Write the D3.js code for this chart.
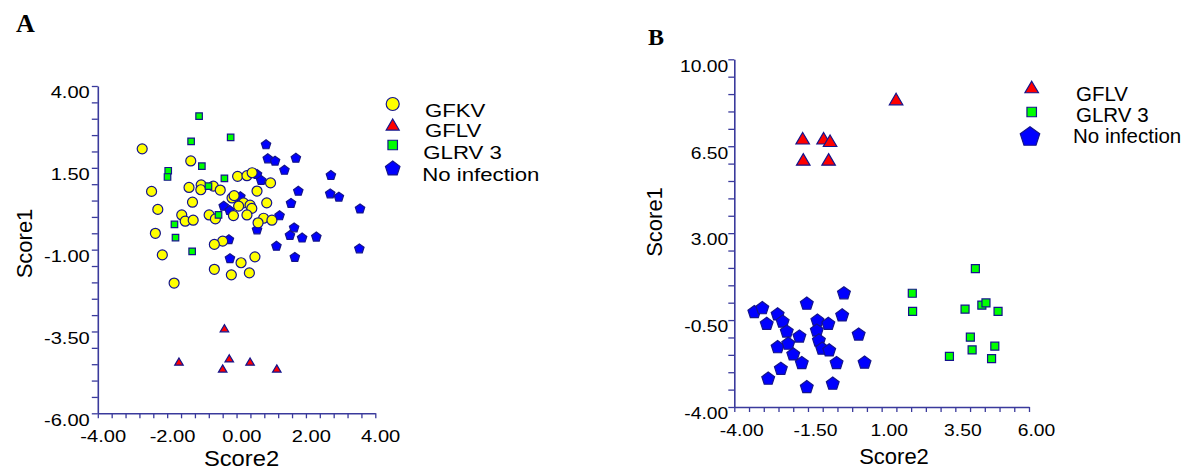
<!DOCTYPE html>
<html>
<head>
<meta charset="utf-8">
<script src="https://cdn.jsdelivr.net/npm/d3@7"></script>
<style>
  body { margin: 0; background: #fff; }
  svg { display: block; font-family: "Liberation Sans", Arial, sans-serif; }
</style>
</head>
<body>
<svg id="chart" width="1184" height="470"></svg>
<script>
// Panel A points, [Score2, Score1]
const gfkvA = [
  [-2.72, 2.08], [-1.32, 1.71], [-2.45, 0.78], [-2.27, 0.23], [-2.34, -0.50], [-2.14, -1.16],
  [-1.80, -2.02], [-1.37, 0.90], [-1.02, 0.98], [-1.03, 0.83], [-0.67, 0.94], [-0.47, 0.82],
  [-1.27, 0.45], [-1.58, 0.06], [-1.48, -0.13], [-1.25, -0.10], [-0.79, 0.06], [-0.61, -0.06],
  [-0.13, 0.58], [-0.07, 0.65], [0.20, 0.43], [0.06, 0.33], [0.39, 0.36], [0.44, 0.26],
  [0.87, 0.43], [-0.09, 0.04], [0.30, 0.06], [0.78, -0.04], [0.62, -0.18], [1.02, -0.10],
  [-0.40, -0.74], [-0.64, -0.84], [0.53, -1.22], [0.13, -1.40], [0.37, -1.71], [-0.15, -1.77],
  [-0.64, -1.60], [0.03, 1.24], [0.30, 1.26], [0.45, 1.35], [0.98, 1.04], [0.59, 0.79]
];
const gflvA = [[-0.35, -3.40], [-1.66, -4.42], [-0.21, -4.32], [-0.40, -4.63], [0.39, -4.42], [1.16, -4.63]];
const glrvA = [
  [-1.08, 3.08], [-0.17, 2.43], [-1.31, 2.31], [-1.00, 1.55], [-1.97, 1.41], [-1.99, 1.22],
  [-0.35, 1.18], [-0.81, 0.94], [-0.52, 0.06], [-1.79, -0.23], [-1.76, -0.63], [-1.28, -1.05]
];
const noneA = [
  [0.85, 2.22], [0.90, 1.79], [1.11, 1.72], [1.71, 1.81], [1.38, 1.44], [2.72, 1.28],
  [0.59, 1.31], [0.71, 1.13], [1.78, 0.80], [2.70, 0.72], [2.95, 0.62], [3.56, 0.26],
  [1.57, 0.43], [0.11, 0.63], [-0.37, 0.34], [-0.20, 0.21], [1.24, 0.05], [0.59, -0.38],
  [1.66, -0.32], [1.54, -0.55], [1.89, -0.63], [2.30, -0.60], [-0.22, -0.68], [1.15, -0.88],
  [3.54, -0.96], [-0.19, -1.26], [1.68, -1.22]
];

// Panel B points
const gflvB = [[-1.68, 6.82], [-0.97, 6.82], [-0.75, 6.72], [-1.66, 5.97], [-0.80, 5.97], [1.49, 8.40]];
const glrvB = [
  [4.18, 1.57], [2.04, 0.58], [2.05, -0.15], [3.83, -0.06], [4.40, 0.10], [4.54, 0.19],
  [4.95, -0.15], [4.01, -1.19], [4.07, -1.70], [4.84, -1.55], [3.30, -1.96], [4.73, -2.05]
];
const noneB = [
  [-3.32, -0.16], [-3.05, 0.00], [-2.90, -0.63], [-2.53, -0.25], [-2.36, -0.54], [-2.22, -0.94],
  [-2.53, -1.57], [-2.17, -1.43], [-2.00, -1.86], [-1.79, -1.14], [-1.71, -2.21], [-2.85, -2.84],
  [-2.42, -2.44], [-1.54, 0.18], [-1.18, -0.50], [-1.20, -0.90], [-1.13, -1.30], [-1.02, -1.63],
  [-0.78, -1.70], [-0.81, -0.63], [-1.54, -3.18], [-0.66, -3.04], [-0.53, -2.21], [-0.34, -0.29],
  [-0.28, 0.60], [0.22, -1.06], [0.42, -2.19]
];

// labelled ticks
const ticksAx = [-4, -2, 0, 2, 4];
const ticksAy = [-6, -3.5, -1, 1.5, 4];
const ticksBx = [-4, -1.5, 1, 3.5, 6];
const ticksBy = [-4, -0.5, 3, 6.5, 10];

const legendA = ["GFKV", "GFLV", "GLRV 3", "No infection"];
const legendB = ["GFLV", "GLRV 3", "No infection"];

const axisColor = "#3a3a9c";
const edge = "#14148c";

// symbol types, size = width in px
const circle = { draw(ctx, w) { ctx.moveTo(w / 2, 0); ctx.arc(0, 0, w / 2, 0, 2 * Math.PI); } };
const square = { draw(ctx, w) { ctx.rect(-w / 2, -w / 2, w, w); } };
const triangle = {
  draw(ctx, w) {
    const h = w * 0.85;
    ctx.moveTo(0, -h / 2); ctx.lineTo(w / 2, h / 2); ctx.lineTo(-w / 2, h / 2); ctx.closePath();
  }
};
const pentagon = {
  draw(ctx, w) {
    const r = w / 1.902, dy = 0.095 * r;
    for (let i = 0; i < 5; i++) {
      const a = -Math.PI / 2 + i * 2 * Math.PI / 5;
      const px = r * Math.cos(a), py = r * Math.sin(a) + dy;
      if (i) ctx.lineTo(px, py); else ctx.moveTo(px, py);
    }
    ctx.closePath();
  }
};

const styles = {
  "GFKV": { type: circle, fill: "#ffff00" },
  "GFLV": { type: triangle, fill: "#ff0000" },
  "GLRV 3": { type: square, fill: "#00ff00" },
  "No infection": { type: pentagon, fill: "#0000ff" }
};

const svg = d3.select("#chart");

function withMinor(majors) {
  const out = [];
  for (let i = 0; i < majors.length - 1; i++) {
    const step = (majors[i + 1] - majors[i]) / 5;
    for (let k = 0; k < 5; k++) out.push(majors[i] + k * step);
  }
  out.push(majors[majors.length - 1]);
  return out;
}

function labelFor(majors) {
  return d => {
    const m = majors.find(t => Math.abs(t - d) < 1e-9);
    return m === undefined ? "" : m.toFixed(2);
  };
}

function drawMarks(g, data, name, w, x, y) {
  const st = styles[name];
  g.append("g").selectAll("path")
    .data(data)
    .join("path")
    .attr("transform", d => `translate(${x(d[0])},${y(d[1])})`)
    .attr("d", d3.symbol().type(st.type).size(w))
    .attr("fill", st.fill)
    .attr("stroke", edge)
    .attr("stroke-width", 1.2);
}

function drawPanel(p) {
  const g = svg.append("g");
  const x = d3.scaleLinear().domain([p.xt[0], p.xt[p.xt.length - 1]]).range(p.xr);
  const y = d3.scaleLinear().domain([p.yt[0], p.yt[p.yt.length - 1]]).range(p.yr);

  // x axis
  const gx = g.append("g")
    .attr("transform", `translate(0,${p.yr[0]})`)
    .call(d3.axisBottom(x).tickValues(withMinor(p.xt)).tickFormat(labelFor(p.xt)).tickSize(5).tickSizeOuter(0));
  // y axis
  const gy = g.append("g")
    .attr("transform", `translate(${p.xr[0]},0)`)
    .call(d3.axisLeft(y).tickValues(withMinor(p.yt)).tickFormat(labelFor(p.yt)).tickSize(6).tickSizeOuter(0));

  [gx, gy].forEach(a => {
    a.attr("font-family", null).attr("font-size", 16.5);
    a.select(".domain").attr("stroke", axisColor).attr("stroke-width", 1.6);
    a.selectAll(".tick line").attr("stroke", axisColor).attr("stroke-width", 1.3);
    a.selectAll(".tick text").attr("fill", "#000");
  });
  gx.selectAll(".tick text")
    .attr("dy", null).attr("y", 29).attr("x", p.xdx)
    .attr("transform", `scale(${p.stretch},1)`);
  gy.selectAll(".tick text")
    .attr("dy", null).attr("y", 11.8).attr("x", -p.ygap / p.stretch)
    .attr("transform", `scale(${p.stretch},1)`);

  // titles
  g.append("text")
    .attr("transform", `translate(${p.s1[0]},${p.s1[1]}) rotate(-90)`)
    .attr("text-anchor", "middle").attr("font-size", 22).text("Score1");
  g.append("text")
    .attr("transform", `translate(${p.s2[0]},${p.s2[1]}) scale(${p.s2[2]},1)`)
    .attr("text-anchor", "middle").attr("font-size", 22).text("Score2");

  // marks
  p.series.forEach(s => drawMarks(g, s.data, s.name, s.w, x, y));

  // legend
  const lg = g.append("g");
  p.legend.forEach((name, i) => {
    const it = p.legendPos[i];
    const st = styles[name];
    lg.append("path")
      .attr("transform", `translate(${it[0]},${it[1]})`)
      .attr("d", d3.symbol().type(st.type).size(it[2]))
      .attr("fill", st.fill).attr("stroke", edge).attr("stroke-width", 1.2);
    lg.append("text")
      .attr("transform", `translate(${it[3]},${it[4]}) scale(${p.legendStretch},1)`)
      .attr("font-size", p.legendFont).text(name);
  });

  svg.append("text")
    .attr("x", p.tag[1]).attr("y", p.tag[2])
    .attr("font-family", "'Liberation Serif', 'Times New Roman', serif")
    .attr("font-weight", "bold").attr("font-size", p.tag[3])
    .text(p.tag[0]);
}

drawPanel({
  xt: ticksAx, yt: ticksAy,
  xr: [97.8, 375.3], yr: [413.3, 86],
  xdx: 4, ygap: 8, stretch: 1.22,
  s1: [31.5, 243.5], s2: [241.5, 466, 1.08],
  series: [
    { name: "No infection", data: noneA, w: 9.4 },
    { name: "GFLV", data: gflvA, w: 8.5 },
    { name: "GFKV", data: gfkvA, w: 10 },
    { name: "GLRV 3", data: glrvA, w: 6.5 }
  ],
  legend: legendA,
  legendPos: [
    [392.7, 104, 13, 425, 117],
    [392.7, 124.5, 13, 425, 137],
    [392.7, 145, 9.5, 423.3, 159.3],
    [392.7, 168, 14.5, 422.3, 180.5]
  ],
  legendFont: 18.5, legendStretch: 1.2,
  tag: ["A", 16, 32.3, 26]
});

drawPanel({
  xt: ticksBx, yt: ticksBy,
  xr: [734.3, 1029], yr: [407, 59.3],
  xdx: 6, ygap: 6, stretch: 1.17,
  s1: [662, 222], s2: [894, 464, 1.0],
  series: [
    { name: "No infection", data: noneB, w: 12.8 },
    { name: "GFLV", data: gflvB, w: 13.5 },
    { name: "GLRV 3", data: glrvB, w: 8 }
  ],
  legend: legendB,
  legendPos: [
    [1031.7, 87, 13.5, 1076, 100.7],
    [1031.7, 112, 9.5, 1076, 122.3],
    [1030, 136, 19.5, 1073, 143.3]
  ],
  legendFont: 20.5, legendStretch: 1.0,
  tag: ["B", 648, 45, 24]
});
</script>
</body>
</html>
